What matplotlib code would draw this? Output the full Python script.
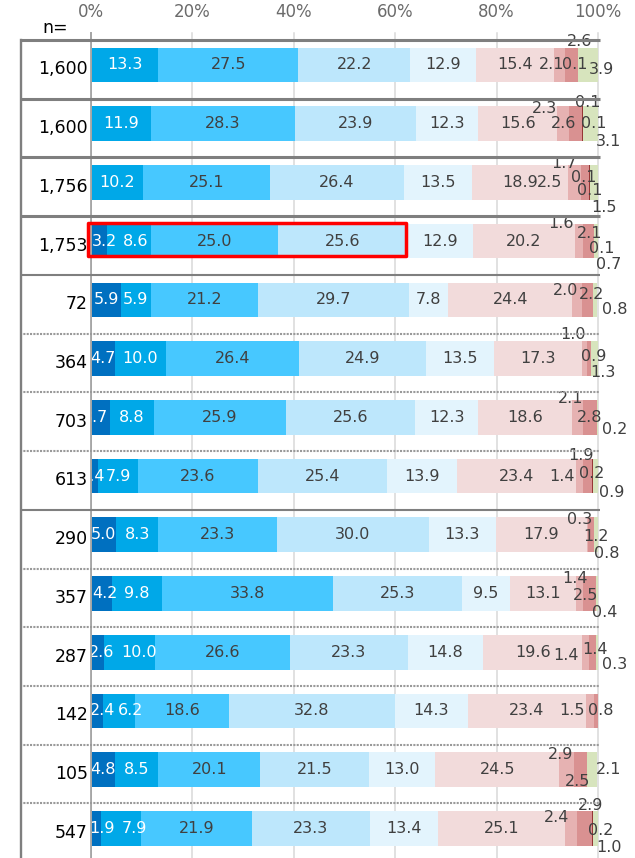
import matplotlib
matplotlib.use("Agg")
import matplotlib.pyplot as plt
from matplotlib.patches import Rectangle

# ---- data -------------------------------------------------------------
n_labels = ["1,600", "1,600", "1,756", "1,753", "72", "364", "703",
            "613", "290", "357", "287", "142", "105", "547"]

cat_darkblue = [0, 0, 0, 3.2, 5.9, 4.7, 3.7, 1.4, 5.0, 4.2, 2.6, 2.4, 4.8, 1.9]
cat_blue = [13.3, 11.9, 10.2, 8.6, 5.9, 10.0, 8.8, 7.9, 8.3, 9.8, 10.0, 6.2, 8.5, 7.9]
cat_sky = [27.5, 28.3, 25.1, 25.0, 21.2, 26.4, 25.9, 23.6, 23.3, 33.8, 26.6, 18.6, 20.1, 21.9]
cat_pale = [22.2, 23.9, 26.4, 25.6, 29.7, 24.9, 25.6, 25.4, 30.0, 25.3, 23.3, 32.8, 21.5, 23.3]
cat_paler = [12.9, 12.3, 13.5, 12.9, 7.8, 13.5, 12.3, 13.9, 13.3, 9.5, 14.8, 14.3, 13.0, 13.4]
cat_pink = [15.4, 15.6, 18.9, 20.2, 24.4, 17.3, 18.6, 23.4, 17.9, 13.1, 19.6, 23.4, 24.5, 25.1]
cat_rose = [2.1, 2.3, 2.5, 1.6, 2.0, 1.0, 2.1, 1.4, 0.3, 1.4, 1.4, 1.5, 2.9, 2.4]
cat_red = [2.6, 2.6, 1.7, 2.1, 2.2, 0.9, 2.8, 1.9, 1.2, 2.5, 1.4, 0.8, 2.5, 2.9]
cat_maroon = [0.1, 0.1, 0.1, 0.1, 0, 0, 0, 0.2, 0, 0, 0, 0, 0, 0.2]
cat_other = [0, 0.1, 0.1, 0, 0, 0, 0, 0, 0, 0, 0, 0, 0, 0]
cat_green = [3.9, 3.1, 1.5, 0.7, 0.8, 1.3, 0.2, 0.9, 0.8, 0.4, 0.3, 0, 2.1, 1.0]

series = [cat_darkblue, cat_blue, cat_sky, cat_pale, cat_paler, cat_pink,
          cat_rose, cat_red, cat_maroon, cat_other, cat_green]
colors = ["#0070C0", "#00A8E8", "#47C8FF", "#BDE7FC", "#E3F4FD", "#F2DBDB",
          "#E6B2B2", "#D99191", "#953735", "#C0504D", "#D7E4BD"]
text_colors = ["white", "white"] + ["#404040"] * 9
ticks = [0, 20, 40, 60, 80, 100]

# hand-placed labels for thin segments: (row, series) -> (dx, dy) px, dy down
nudge = {
    (3, 0): (5, 0), (3, 1): (7, 0), (6, 0): (-5, 0), (7, 0): (-3, 0),
    (9, 0): (3, 0), (10, 0): (4, 0), (10, 1): (10, 0),
    (11, 0): (5, 0), (11, 1): (12, 0), (13, 0): (6, 0), (13, 1): (14, 0),
    (0, 6): (-8, 0), (0, 7): (8, -23), (0, 8): (-3, 0), (0, 10): (13, 5),
    (1, 6): (-19, -15), (1, 7): (-12, 0), (1, 8): (5, -21), (1, 9): (11, 0), (1, 10): (17, 18),
    (2, 6): (-25, 0), (2, 7): (-21, -19), (2, 8): (-6, -5), (2, 9): (0, 8), (2, 10): (10, 25),
    (3, 6): (-18, -18), (3, 7): (1, -8), (3, 8): (8, 7), (3, 10): (12, 23),
    (4, 6): (-12, -9), (4, 7): (4, -5), (4, 10): (19, 10),
    (5, 6): (-11, -24), (5, 7): (5, -2), (5, 10): (8, 14),
    (6, 6): (-7, -19), (6, 7): (0, 0), (6, 10): (17, 12),
    (7, 6): (-17, 0), (7, 7): (-7, -21), (7, 8): (-1, -3), (7, 10): (16, 16),
    (8, 6): (-8, -15), (8, 7): (5, 2), (8, 10): (10, 19),
    (9, 6): (-5, -15), (9, 7): (-4, 2), (9, 10): (8, 19),
    (10, 6): (-20, 3), (10, 7): (2, -3), (10, 10): (17, 12),
    (11, 6): (-18, 0), (11, 7): (5, 0),
    (12, 6): (-6, -15), (12, 7): (-3, 12), (12, 10): (16, 0),
    (13, 6): (-15, -11), (13, 7): (6, -23), (13, 8): (8, 2), (13, 10): (14, 19),
}

# ---- layout -----------------------------------------------------------
W, H = 635, 858
X0, X100 = 91, 598          # pixel x of 0% and 100%
TOP, PITCH = 40, 58.73      # pixel y of first row top, row height
PX = (X100 - X0) / 100.0    # pixels per percent


def xd(px):
    return (px - X0) / PX


def yd(py):
    return (py - TOP) / PITCH - 0.5


plt.rcParams["font.family"] = ["DejaVu Sans"]
fig = plt.figure(figsize=(W / 100, H / 100), dpi=100)
ax = fig.add_axes([X0 / W, 0, (X100 - X0) / W, (H - TOP) / H])
nrows = len(n_labels)
ax.set_xlim(0, 100)
ax.set_ylim(yd(H), -0.5)
ax.axis("off")

# gridlines
for t in ticks:
    ax.plot([t, t], [yd(33), yd(H + 10)], color="#A6A6A6" if t == 0 else "#D9D9D9",
            lw=1.3 if t == 0 else 1.1, zorder=0 if t else 3, clip_on=False)
    ax.text(t, yd(12), f"{t}%", ha="center", va="center", fontsize=12,
            color="#6B6B6B", clip_on=False)

# bars + labels
bar_h = 0.59
for r in range(nrows):
    y = r - 0.075
    left = 0.0
    for k, vals in enumerate(series):
        v = vals[r]
        if v <= 0:
            continue
        ax.barh(y, v, left=left, height=bar_h, color=colors[k], lw=0, zorder=2)
        dx, dy = nudge.get((r, k), (0, 0))
        ax.annotate(f"{v:.1f}", (left + v / 2, y), xytext=(dx, -dy),
                    textcoords="offset pixels", ha="center", va="center",
                    fontsize=11.5, color=text_colors[k], zorder=4,
                    annotation_clip=False)
        left += v

# n column (white cell covers labels spilling left of 0%)
ax.add_patch(Rectangle((xd(21), -0.5), xd(X0) - xd(21), yd(H + 10) + 0.5,
                       facecolor="white", edgecolor="none", zorder=5, clip_on=False))
ax.plot([0, 0], [yd(33), yd(H + 10)], color="#A6A6A6", lw=1.3, zorder=6, clip_on=False)
for r, lab in enumerate(n_labels):
    ax.text(xd(88), r, lab, ha="right", va="center", fontsize=12.5,
            color="black", zorder=7, clip_on=False)
ax.text(xd(55), yd(28), "n=", ha="center", va="center", fontsize=12.5,
        color="black", clip_on=False)

# row separators
solid_rows = {0: 2.2, 1: 2.2, 2: 2.2, 3: 2.2, 4: 1.5, 8: 1.5}
for r in range(nrows):
    yy = r - 0.5
    if r in solid_rows:
        ax.plot([xd(20), xd(600)], [yy, yy], color="#7F7F7F", lw=solid_rows[r],
                zorder=6, clip_on=False, solid_capstyle="butt")
    else:
        ax.plot([xd(20), xd(600)], [yy, yy], color="#9A9A9A", lw=1.5,
                ls=(0, (1, 0.6)), zorder=6, clip_on=False)
ax.plot([xd(21), xd(21)], [-0.5, yd(H + 10)], color="#7F7F7F", lw=1.7,
        zorder=6, clip_on=False)

# highlight box on the 1,753 row
ax.add_patch(Rectangle((xd(87.5), yd(222.5)), xd(405.5) - xd(87.5), yd(255.5) - yd(222.5),
                       fill=False, edgecolor="#FF0000", lw=2.5, joinstyle="round",
                       zorder=8, clip_on=False))

fig.savefig("out.png", dpi=100)
